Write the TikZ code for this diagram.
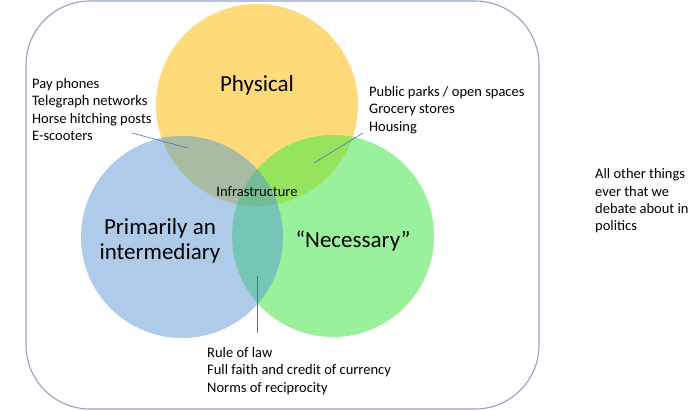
\documentclass[tikz,border=0pt]{standalone}
\usepackage{fontspec}
\setmainfont{Carlito}

\definecolor{phys}{HTML}{FFDA7B}
\definecolor{inter}{HTML}{AECBEA}
\definecolor{need}{HTML}{99F29B}
\definecolor{physinter}{HTML}{A9BBA3}
\definecolor{physneed}{HTML}{96E35D}
\definecolor{interneed}{HTML}{76C6B8}
\definecolor{allthree}{HTML}{74BB97}
\definecolor{framecol}{HTML}{8FA2C8}
\definecolor{leadcol}{HTML}{4472C4}

\begin{document}
\begin{tikzpicture}[x=1pt,y=-1pt,
	big/.style={font=\fontsize{23}{25}\selectfont,align=center,inner sep=0pt},
	small/.style={font=\fontsize{14.5}{17.4}\selectfont,align=left,inner sep=0pt,anchor=west},
	lead/.style={draw=leadcol,line width=0.6pt}]
		\useasboundingbox (0,0) rectangle (700,411);
		\draw[framecol,line width=1.1pt,rounded corners=64pt] (26,1) rectangle (539,409);
		
		\coordinate (Y) at (257,105);
		\coordinate (B) at (182,237);
		\coordinate (G) at (333,236);
		\fill[phys] (Y) circle (101pt);
		\fill[inter] (B) circle (101pt);
		\fill[need] (G) circle (101pt);
		
		\begin{scope}
		\clip (Y) circle (101pt);
		\fill[physinter] (B) circle (101pt);
		\fill[physneed] (G) circle (101pt);
		\end{scope}
		
		\begin{scope}
		\clip (B) circle (101pt);
		\fill[interneed] (G) circle (101pt);
		\clip (Y) circle (101pt);
		\fill[allthree] (G) circle (101pt);
		\end{scope}
		
		\node[big] (phy) at (257,85) {Physical};
		\node[big] (int) at (160,241) {Primarily an\\intermediary};
		\node[big] (nec) at (353,241) {“Necessary”};
		\node[font=\fontsize{14.5}{17}\selectfont,inner sep=0pt] (inf) at (257,192) {Infrastructure};
		
		\node[small] (old) at (32,109.5) {Pay phones\\Telegraph networks\\Horse hitching posts\\E-scooters};
		\node[small] (pub) at (369,110) {Public parks / open spaces\\Grocery stores\\Housing};
		\node[small] (law) at (207,371) {Rule of law\\Full faith and credit of currency\\Norms of reciprocity};
		\node[small] (rest) at (595,201) {All other things\\ever that we\\debate about in\\politics};
		
		\coordinate (a1) at (132,133);
		\coordinate (a2) at (188,148);
		\coordinate (b1) at (314,163);
		\coordinate (b2) at (363,133);
		\coordinate (c1) at (257,276);
		\coordinate (c2) at (257,333);
		\draw[lead] (a1) -- (a2);
		\draw[lead] (b1) -- (b2);
		\draw[lead] (c1) -- (c2);
		\end{tikzpicture}
\end{document}
